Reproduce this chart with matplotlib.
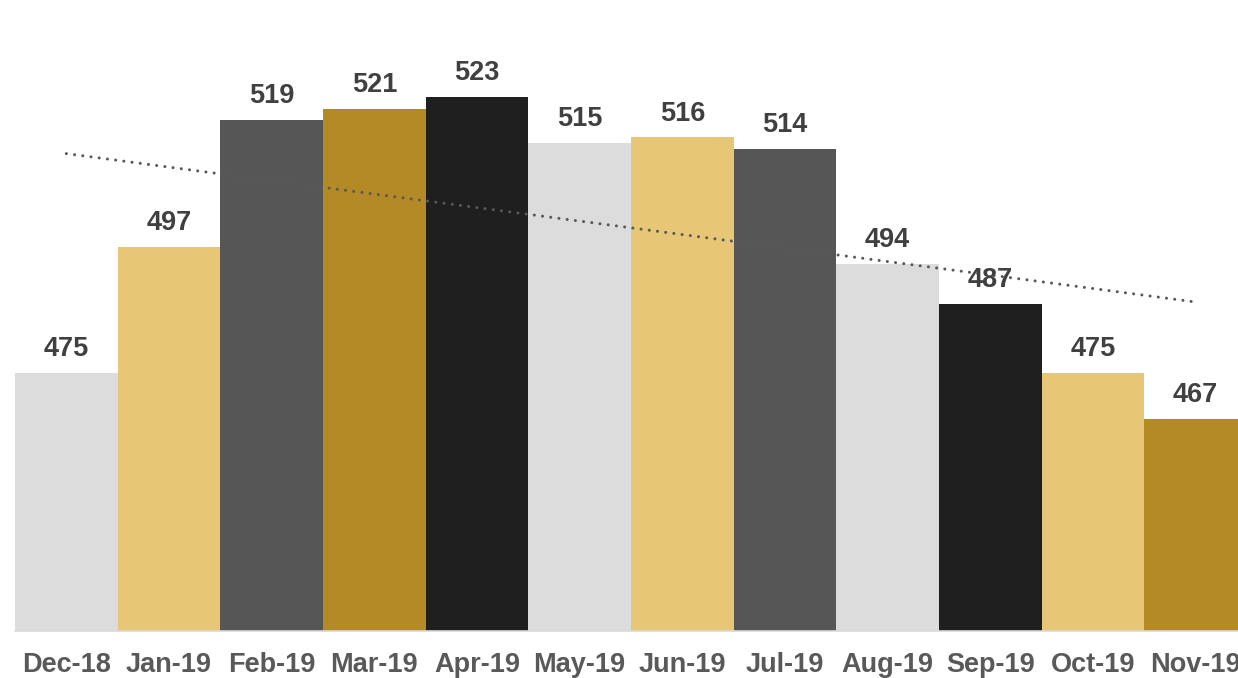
import matplotlib
matplotlib.use("Agg")
import matplotlib.pyplot as plt
import numpy as np

months = ["Dec-18", "Jan-19", "Feb-19", "Mar-19", "Apr-19", "May-19",
          "Jun-19", "Jul-19", "Aug-19", "Sep-19", "Oct-19", "Nov-19"]
values = [475, 497, 519, 521, 523, 515, 516, 514, 494, 487, 475, 467]
colors = ["#DCDCDC", "#E7C676", "#565656", "#B38A26", "#1F1F1F", "#DCDCDC",
          "#E7C676", "#565656", "#DCDCDC", "#1F1F1F", "#E7C676", "#B38A26"]

plt.rcParams['font.family'] = ['Liberation Sans', 'DejaVu Sans']

fig = plt.figure(figsize=(12.38, 6.78), dpi=100)
ax = fig.add_axes([15/1238, (678-631)/678, 1232/1238, 631/678])

x = np.arange(len(months))
ax.bar(x, values, width=1.0, color=colors, zorder=2)

# linear trendline
coef = np.polyfit(x, values, 1)
trend = np.polyval(coef, x)
ax.plot(x, trend, color="#595959", linewidth=2.2,
        linestyle=(0, (0.01, 2.7)), dash_capstyle="round", zorder=3)

for xi, v in zip(x, values):
    ax.annotate(str(v), (xi, v), xytext=(0, 17), textcoords="offset points",
                ha="center", va="center", fontsize=19.5, fontweight="bold",
                color="#404040", zorder=4)

ax.set_xlim(-0.5, 11.5)
ax.set_ylim(430.13, 539.87)
ax.set_xticks(x)
ax.set_xticklabels(months, fontsize=19.5, fontweight="bold", color="#595959")
ax.tick_params(axis="x", length=0, pad=15)
ax.set_yticks([])
for s in ["top", "left", "right"]:
    ax.spines[s].set_visible(False)
ax.spines["bottom"].set_color("#D9D9D9")
ax.spines["bottom"].set_linewidth(1.2)
ax.spines["bottom"].set_zorder(5)

fig.savefig("out.png", dpi=100)
